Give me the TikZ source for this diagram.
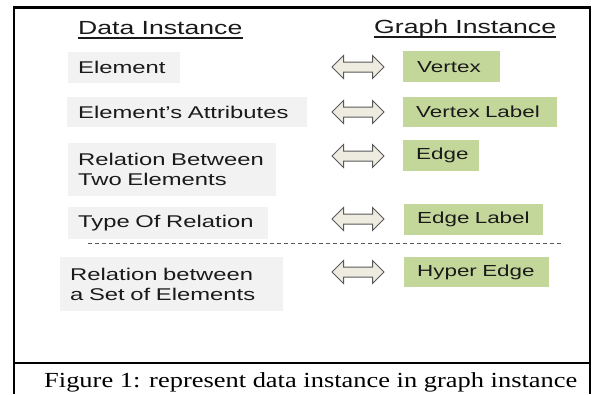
\documentclass[tikz,border=0pt]{standalone}
\usepackage{fontspec}
\setmainfont{Liberation Sans}[FakeStretch=1.4]
\newfontfamily\capfont{Liberation Serif}[FakeStretch=1.23]
\usetikzlibrary{shapes.arrows}
\definecolor{boxgray}{HTML}{F2F2F2}
\definecolor{boxgreen}{HTML}{C4D79B}
\definecolor{arrowfill}{HTML}{EEECE1}
\definecolor{arrowdraw}{HTML}{595959}
\definecolor{txt}{HTML}{1A1A1A}
\begin{document}
\begin{tikzpicture}[x=1pt,y=-1pt,
  frameline/.style={line width=2.5pt, black},
  heading/.style={font=\fontsize{19}{22}\selectfont, text=txt, inner sep=0pt, anchor=base west},
  uline/.style={line width=1.1pt, txt},
  leftbox/.style={font=\fontsize{17}{20}\selectfont, text=txt, fill=boxgray, anchor=north west,
                  align=left, inner ysep=0pt, inner xsep=10pt},
  rightbox/.style={font=\fontsize{16}{19}\selectfont, text=txt, fill=boxgreen, anchor=north west,
                  align=left, inner ysep=0pt, inner xsep=13pt},
  dblarrow/.style={double arrow, draw=arrowdraw, fill=arrowfill, line width=1pt,
                  minimum height=52pt, inner xsep=0pt, inner ysep=4.5pt,
                  double arrow head extend=6.5pt},
  sepline/.style={dashed, dash pattern=on 4pt off 3pt, line width=0.9pt, arrowdraw},
  caption/.style={font=\capfont\fontsize{21.5}{24}\selectfont, text=black, inner sep=0pt, anchor=base west}]
\useasboundingbox (0,0) rectangle (594,394);
\fill[white] (0,0) rectangle (594,394);

% frame
\coordinate (ftl) at (14,7.5);
\coordinate (ftr) at (590,7.5);
\coordinate (fbl) at (14,394);
\coordinate (fbr) at (590,394);
\coordinate (fml) at (14,363);
\coordinate (fmr) at (590,363);
\draw[frameline] (ftl) -- (ftr);
\draw[frameline] ([yshift=1.25pt]ftl) -- (fbl);
\draw[frameline] ([yshift=1.25pt]ftr) -- (fbr);
\draw[frameline] (fml) -- (fmr);

% headings
\node[heading] (dh) at (78,34) {Data Instance};
\node[heading] (gh) at (374,33) {Graph Instance};
\draw[uline] ([yshift=-4pt]dh.base west) -- ([yshift=-4pt]dh.base east);
\draw[uline] ([yshift=-4pt]gh.base west) -- ([yshift=-4pt]gh.base east);

% data instance boxes
\node[leftbox, text width=92pt, minimum height=31pt] (d1) at (68,52) {Element};
\node[leftbox, inner xsep=11pt, text width=218pt, minimum height=30pt] (d2) at (67,97) {Element’s Attributes};
\node[leftbox, text width=188pt, minimum height=53pt] (d3) at (68,143) {Relation Between\\Two Elements};
\node[leftbox, text width=180pt, minimum height=32pt] (d4) at (68,207) {Type Of Relation};
\node[leftbox, text width=203pt, minimum height=54pt] (d5) at (60,257) {Relation between\\a Set of Elements};

% graph instance boxes
\node[rightbox, inner xsep=14pt, text width=69pt, minimum height=31pt] (g1) at (403,51) {Vertex};
\node[rightbox, text width=128pt, minimum height=30pt] (g2) at (403,97) {Vertex Label};
\node[rightbox, text width=50pt, minimum height=31pt] (g3) at (403,140) {Edge};
\node[rightbox, text width=113pt, minimum height=31pt] (g4) at (404,204) {Edge Label};
\node[rightbox, text width=119pt, minimum height=30pt] (g5) at (404,257) {Hyper Edge};

% double arrows
\node[dblarrow] (a1) at (358,67) {};
\node[dblarrow] (a2) at (358,112) {};
\node[dblarrow] (a3) at (358,156) {};
\node[dblarrow] (a4) at (358,219) {};
\node[dblarrow] (a5) at (358,272) {};

% separator
\coordinate (s1) at (88,243);
\coordinate (s2) at (563,243);
\draw[sepline] (s1) -- (s2);

% caption
\node[caption] (cap) at (44,387) {Figure 1: represent data instance in graph instance};
\end{tikzpicture}
\end{document}
